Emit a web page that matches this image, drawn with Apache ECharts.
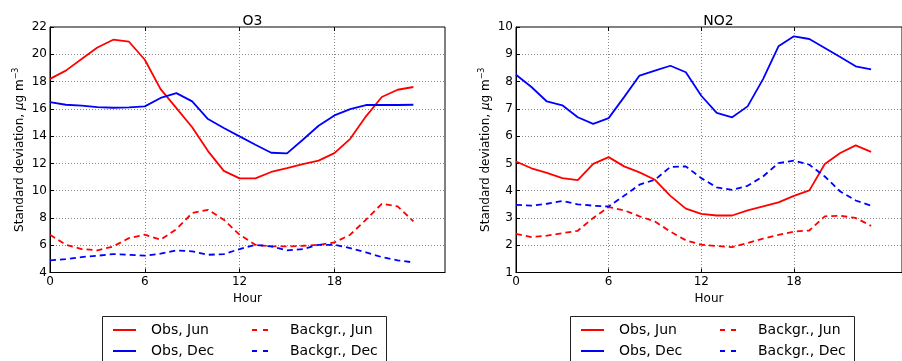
<!DOCTYPE html>
<html><head><meta charset="utf-8">
<script src="https://cdn.jsdelivr.net/npm/echarts@6/dist/echarts.min.js"></script>
<style>html,body{margin:0;padding:0;background:#fff}#c{width:902px;height:361px}</style>
</head><body><div id="c"></div>
<script>
const hours = [0,1,2,3,4,5,6,7,8,9,10,11,12,13,14,15,16,17,18,19,20,21,22,23];
const xTicks = [0, 6, 12, 18];
const axisHours = [0,1,2,3,4,5,6,7,8,9,10,11,12,13,14,15,16,17,18,19,20,21,22,23,24,25];
const seriesNames = ['Obs, Jun', 'Obs, Dec', 'Backgr., Jun', 'Backgr., Dec'];

const o3ObsJun = [18.2,18.8,19.65,20.5,21.07,20.92,19.6,17.45,16.05,14.65,12.9,11.45,10.9,10.9,11.37,11.65,11.95,12.2,12.75,13.8,15.45,16.87,17.4,17.6];
const o3ObsDec = [16.5,16.3,16.23,16.13,16.08,16.1,16.18,16.8,17.15,16.55,15.25,14.6,13.98,13.37,12.78,12.73,13.73,14.76,15.52,15.98,16.28,16.28,16.28,16.3];
const o3BgJun  = [6.77,6.03,5.72,5.62,5.91,6.52,6.77,6.4,7.18,8.36,8.6,7.87,6.77,6.03,5.91,5.91,5.96,6.03,6.2,6.77,7.87,9.04,8.85,7.75];
const o3BgDec  = [4.89,4.98,5.13,5.23,5.35,5.3,5.23,5.38,5.62,5.55,5.3,5.35,5.72,6.03,5.91,5.62,5.72,6.03,6.03,5.79,5.47,5.13,4.89,4.74];

const no2ObsJun = [5.07,4.82,4.65,4.46,4.39,4.98,5.23,4.89,4.67,4.4,3.81,3.34,3.15,3.09,3.09,3.28,3.42,3.57,3.81,4.01,4.98,5.38,5.66,5.42];
const no2ObsDec = [8.25,7.8,7.27,7.13,6.69,6.45,6.66,7.43,8.22,8.4,8.58,8.34,7.48,6.85,6.69,7.09,8.09,9.29,9.66,9.56,9.23,8.9,8.56,8.45];
const no2BgJun  = [2.42,2.3,2.35,2.44,2.53,3.0,3.4,3.28,3.06,2.87,2.5,2.18,2.02,1.97,1.93,2.08,2.24,2.38,2.5,2.54,3.06,3.08,3.0,2.71];
const no2BgDec  = [3.48,3.45,3.52,3.62,3.5,3.45,3.42,3.81,4.22,4.4,4.87,4.89,4.46,4.12,4.03,4.18,4.52,5.01,5.1,4.95,4.52,3.97,3.64,3.45];

const FONT = 'DejaVu Sans';
const RED = '#ff0000', BLUE = '#0000ff';
const DASH = [6, 4];
const styles = [
  {color: RED, type: 'solid'},
  {color: BLUE, type: 'solid'},
  {color: RED, type: DASH},
  {color: BLUE, type: DASH}
];

function pairs(arr){ return hours.map((h,i)=>[h, arr[i]]); }

const panels = [
  {title: 'O3', left: 50, ymin: 4, ymax: 22, yint: 2, data: [o3ObsJun, o3ObsDec, o3BgJun, o3BgDec]},
  {title: 'NO2', left: 516, ymin: 1, ymax: 10, yint: 1, data: [no2ObsJun, no2ObsDec, no2BgJun, no2BgDec]}
];

const grids = [], xAxes = [], yAxes = [], series = [], titles = [], legends = [], graphics = [];
const gridW = 395, gridTop = 27, gridH = 245.5;
const splitLS = {color: '#8a8a8a', type: [1, 2], width: 1};

panels.forEach((p, gi) => {
  grids.push({left: p.left, top: gridTop, width: gridW, height: gridH, show: true,
    borderColor: '#000', borderWidth: 1, containLabel: false});
  titles.push({text: p.title, left: p.left + gridW/2, top: 9, textAlign: 'center',
    textStyle: {fontFamily: FONT, fontSize: 14, fontWeight: 'normal', color: '#000'}});
  xAxes.push({type: 'value', gridIndex: gi, min: 0, max: 25, interval: 6,
    name: 'Hour', nameLocation: 'middle', nameGap: 18,
    nameTextStyle: {fontFamily: FONT, fontSize: 12, color: '#000'},
    axisLine: {show: true, lineStyle: {color: '#000'}},
    axisTick: {show: true, inside: true, length: 4, customValues: xTicks, lineStyle: {color: '#000'}},
    axisLabel: {show: true, customValues: xTicks, margin: 3, fontFamily: FONT, fontSize: 12, color: '#000'},
    splitLine: {show: false}});
  // overlay category axis only for vertical grid lines at 6, 12, 18
  xAxes.push({type: 'category', gridIndex: gi, data: axisHours, boundaryGap: false, position: 'top',
    axisLine: {show: false}, axisLabel: {show: false},
    axisTick: {show: true, inside: true, length: 4, interval: (i) => i % 6 === 0 && i < 24, lineStyle: {color: '#000'}},
    splitLine: {show: true, interval: (i) => i % 6 === 0 && i > 0 && i < 24, lineStyle: splitLS}});
  yAxes.push({type: 'value', gridIndex: gi, min: p.ymin, max: p.ymax, interval: p.yint,
    name: 'Standard deviation, {it|μ}g m{sup|−3}', nameLocation: 'middle', nameGap: 22,
    nameTextStyle: {fontFamily: FONT, fontSize: 12, color: '#000',
      rich: {it: {fontFamily: FONT, fontSize: 12, fontStyle: 'italic', color: '#000'},
             sup: {fontFamily: FONT, fontSize: 8, color: '#000', padding: [0, 0, 8, 0]}}},
    axisLine: {show: true, lineStyle: {color: '#000'}},
    axisTick: {show: true, inside: true, length: 4, lineStyle: {color: '#000'}},
    axisLabel: {show: true, margin: 3, fontFamily: FONT, fontSize: 12, color: '#000'},
    splitLine: {show: true, lineStyle: splitLS}});
  p.data.forEach((arr, si) => {
    series.push({type: 'line', name: seriesNames[si], xAxisIndex: gi * 2, yAxisIndex: gi,
      data: pairs(arr), symbol: 'none', showSymbol: false, animation: false,
      lineStyle: {color: styles[si].color, width: 1.8, type: styles[si].type},
      itemStyle: {color: styles[si].color}});
  });
  const off = gi === 0 ? 0 : 468;
  const legCommon = {orient: 'vertical', top: 323, height: 38, padding: 0,
    itemHeight: 14, itemGap: 7,
    itemStyle: {color: 'rgba(0,0,0,0)', borderWidth: 0, borderColor: 'rgba(0,0,0,0)'},
    selectedMode: false};
  legends.push(Object.assign({}, legCommon, {left: 112 + off, itemWidth: 23,
    textStyle: {fontFamily: FONT, fontSize: 14, color: '#000', padding: [0, 0, 0, 10]},
    data: ['Obs, Jun', 'Obs, Dec']}));
  legends.push(Object.assign({}, legCommon, {left: 251 + off, itemWidth: 16,
    lineStyle: {type: [5, 6]},
    textStyle: {fontFamily: FONT, fontSize: 14, color: '#000', padding: [0, 0, 0, 17]},
    data: ['Backgr., Jun', 'Backgr., Dec']}));
  graphics.push({type: 'rect', shape: {x: 102.5 + off, y: 316.5, width: 284, height: 60},
    style: {fill: 'none', stroke: '#222', lineWidth: 1}, silent: true});
});

const chart = echarts.init(document.getElementById('c'), null, {renderer: 'canvas'});
chart.setOption({
  animation: false,
  backgroundColor: '#fff',
  title: titles,
  grid: grids,
  xAxis: xAxes,
  yAxis: yAxes,
  legend: legends,
  graphic: graphics,
  series: series
});
</script></body></html>
